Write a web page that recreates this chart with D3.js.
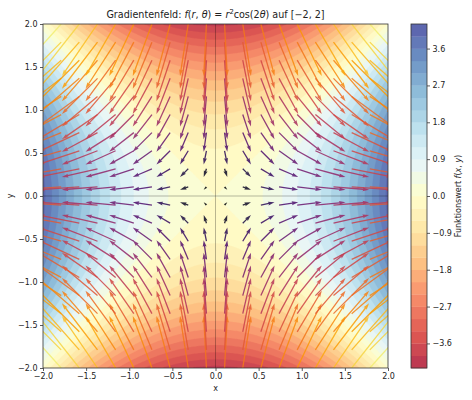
<!DOCTYPE html>
<html>
<head>
<meta charset="utf-8">
<script src="https://cdn.jsdelivr.net/npm/d3@7"></script>
<style>
  body { margin: 0; background: #fff; }
  svg { display: block; font-family: "DejaVu Sans", sans-serif; }
</style>
</head>
<body>
<div id="chart"></div>
<script>
// Data
const xDomain = [-2, 2];
const yDomain = [-2, 2];
const xTickValues = [-2.0, -1.5, -1.0, -0.5, 0.0, 0.5, 1.0, 1.5, 2.0];
const yTickValues = [-2.0, -1.5, -1.0, -0.5, 0.0, 0.5, 1.0, 1.5, 2.0];
const contourLevels = [-4.2, -3.9, -3.6, -3.3, -3.0, -2.7, -2.4, -2.1, -1.8, -1.5, -1.2, -0.9, -0.6, -0.3,
    0.0, 0.3, 0.6, 0.9, 1.2, 1.5, 1.8, 2.1, 2.4, 2.7, 3.0, 3.3, 3.6, 3.9, 4.2];
const colorbarTicks = [-3.6, -2.7, -1.8, -0.9, 0.0, 0.9, 1.8, 2.7, 3.6];
// quiver sample points (same for x and y)
const quiverGrid = [-2.0, -1.789, -1.579, -1.368, -1.158, -0.947, -0.737, -0.526, -0.316, -0.105,
    0.105, 0.316, 0.526, 0.737, 0.947, 1.158, 1.368, 1.579, 1.789, 2.0];
const rdylbuStops = ['#a50026', '#d73027', '#f46d43', '#fdae61', '#fee090', '#ffffbf',
    '#e0f3f8', '#abd9e9', '#74add1', '#4575b4', '#313695'];

// f(r, θ) = r² cos(2θ) = x² − y²
const f = (x, y) => x * x - y * y;
const grad = (x, y) => [2 * x, -2 * y];

// Dimensions
const dimensions = {
    width: 472,
    height: 400,
    plotLeft: 43,
    plotRight: 388,
    plotTop: 24,
    plotBottom: 368,
    cbLeft: 411,
    cbRight: 427
};

const xScale = d3.scaleLinear().domain(xDomain).range([dimensions.plotLeft, dimensions.plotRight]);
const yScale = d3.scaleLinear().domain(yDomain).range([dimensions.plotBottom, dimensions.plotTop]);

const rdylbu = d3.piecewise(d3.interpolateRgb, rdylbuStops);
const fillAlpha = 0.8;
const blend = c => {
    const rgb = d3.rgb(c);
    return d3.rgb(rgb.r * fillAlpha + 255 * (1 - fillAlpha),
        rgb.g * fillAlpha + 255 * (1 - fillAlpha),
        rgb.b * fillAlpha + 255 * (1 - fillAlpha)).formatHex();
};
const lvMin = contourLevels[0], lvMax = contourLevels[contourLevels.length - 1];
const bandColor = i => {
    const mid = (contourLevels[i] + contourLevels[i + 1]) / 2;
    return blend(rdylbu((mid - lvMin) / (lvMax - lvMin)));
};

const svg = d3.select('#chart')
    .append('svg')
    .attr('width', dimensions.width)
    .attr('height', dimensions.height);

svg.append('clipPath').attr('id', 'plotclip')
    .append('rect')
    .attr('x', dimensions.plotLeft).attr('y', dimensions.plotTop)
    .attr('width', dimensions.plotRight - dimensions.plotLeft)
    .attr('height', dimensions.plotBottom - dimensions.plotTop);

const plot = svg.append('g').attr('clip-path', 'url(#plotclip)');

// Filled contours
const n = 240;
const step = (xDomain[1] - xDomain[0]) / n;
const values = new Array(n * n);
for (let j = 0; j < n; j++) {
    for (let i = 0; i < n; i++) {
        const x = xDomain[0] + (i + 0.5) * step;
        const y = yDomain[1] - (j + 0.5) * step;
        values[j * n + i] = f(x, y);
    }
}
const contours = d3.contours().size([n, n]).thresholds(contourLevels.slice(0, -1))(values);
const proj = d3.geoTransform({
    point: function (cx, cy) {
        this.stream.point(xScale(xDomain[0] + cx * step), yScale(yDomain[1] - cy * step));
    }
});
const path = d3.geoPath(proj);

plot.selectAll('path.band')
    .data(contours)
    .join('path')
    .attr('class', 'band')
    .attr('d', path)
    .attr('fill', (d, i) => bandColor(i))
    .attr('stroke', (d, i) => bandColor(i))
    .attr('stroke-width', 0.3);

// zero lines
plot.append('line')
    .attr('x1', xScale(0)).attr('x2', xScale(0))
    .attr('y1', dimensions.plotTop).attr('y2', dimensions.plotBottom)
    .attr('stroke', '#000').attr('stroke-opacity', 0.35).attr('stroke-width', 0.8);
plot.append('line')
    .attr('x1', dimensions.plotLeft).attr('x2', dimensions.plotRight)
    .attr('y1', yScale(0)).attr('y2', yScale(0))
    .attr('stroke', '#000').attr('stroke-opacity', 0.35).attr('stroke-width', 0.8);

// Quiver
const arrows = [];
quiverGrid.forEach(y => quiverGrid.forEach(x => {
    const [gx, gy] = grad(x, y);
    arrows.push({ x, y, gx, gy, mag: Math.hypot(gx, gy) });
}));
const magExtent = d3.extent(arrows, d => d.mag);
const colorScale = d3.scaleSequential(d3.interpolateInferno).domain(magExtent);
const pxPerUnit = 13;
const shaftW = 1.3, headW = 3 * shaftW, headL = 5 * shaftW, headAxisL = 4.5 * shaftW;

function arrowPath(d) {
    const x0 = xScale(d.x), y0 = yScale(d.y);
    const dx = d.gx * pxPerUnit, dy = -d.gy * pxPerUnit;
    const L = Math.hypot(dx, dy);
    let s = 1;
    if (L < headL) s = L / headL;
    const w = shaftW / 2 * s, hw = headW / 2 * s, hl = headL * s, hal = headAxisL * s;
    const pts = [[0, -w], [L - hal, -w], [L - hl, -hw], [L, 0], [L - hl, hw], [L - hal, w], [0, w]];
    const a = Math.atan2(dy, dx), ca = Math.cos(a), sa = Math.sin(a);
    return 'M' + pts.map(([px, py]) => [x0 + px * ca - py * sa, y0 + px * sa + py * ca]
        .map(v => v.toFixed(2)).join(',')).join('L') + 'Z';
}

plot.selectAll('path.arrow')
    .data(arrows)
    .join('path')
    .attr('class', 'arrow')
    .attr('d', arrowPath)
    .attr('fill', d => colorScale(d.mag))
    .attr('fill-opacity', 0.85);

// Frame
svg.append('rect')
    .attr('x', dimensions.plotLeft).attr('y', dimensions.plotTop)
    .attr('width', dimensions.plotRight - dimensions.plotLeft)
    .attr('height', dimensions.plotBottom - dimensions.plotTop)
    .attr('fill', 'none').attr('stroke', '#333').attr('stroke-width', 0.8);

// Axes
const fmt = d => d3.format('.1f')(d).replace('-', '\u2212');
const xAxis = d3.axisBottom(xScale).tickValues(xTickValues).tickFormat(fmt).tickSize(3).tickPadding(2.5);
const yAxis = d3.axisLeft(yScale).tickValues(yTickValues).tickFormat(fmt).tickSize(3).tickPadding(2.5);

const xAxisGroup = svg.append('g')
    .attr('transform', `translate(0, ${dimensions.plotBottom})`)
    .call(xAxis);
const yAxisGroup = svg.append('g')
    .attr('transform', `translate(${dimensions.plotLeft}, 0)`)
    .call(yAxis);
[xAxisGroup, yAxisGroup].forEach(g => {
    g.select('.domain').remove();
    g.selectAll('.tick line').attr('stroke', '#333').attr('stroke-width', 0.8);
    g.selectAll('.tick text').attr('fill', '#222').style('font-size', '8px').style('font-family', '"DejaVu Sans", sans-serif');
});

svg.append('text')
    .attr('x', (dimensions.plotLeft + dimensions.plotRight) / 2)
    .attr('y', 391)
    .attr('text-anchor', 'middle')
    .style('font-size', '8px').attr('fill', '#222')
    .text('x');
svg.append('text')
    .attr('transform', `translate(13, ${(dimensions.plotTop + dimensions.plotBottom) / 2}) rotate(-90)`)
    .attr('text-anchor', 'middle')
    .style('font-size', '8px').attr('fill', '#222')
    .text('y');

// Title with math
const title = svg.append('text')
    .attr('x', (dimensions.plotLeft + dimensions.plotRight) / 2)
    .attr('y', 18)
    .attr('text-anchor', 'middle')
    .style('font-size', '9.6px').attr('fill', '#222');
const titleParts = [
    ['Gradientenfeld: ', false], ['f', true], ['(', false], ['r', true], [', ', false], ['θ', true],
    [') = ', false], ['r', true], ['2', 'sup'], ['cos(2', false], ['θ', true], [') auf [\u22122, 2]', false]
];
titleParts.forEach(([t, style]) => {
    const ts = title.append('tspan').text(t);
    if (style === true) ts.style('font-style', 'italic');
    if (style === 'sup') ts.attr('dy', -4).style('font-size', '6.8px');
    if (t === 'cos(2') ts.attr('dy', 4);
});

// Colorbar
const cbScale = d3.scaleLinear().domain([lvMin, lvMax]).range([dimensions.plotBottom, dimensions.plotTop]);
const cb = svg.append('g');
cb.selectAll('rect')
    .data(d3.range(contourLevels.length - 1))
    .join('rect')
    .attr('x', dimensions.cbLeft)
    .attr('width', dimensions.cbRight - dimensions.cbLeft)
    .attr('y', i => cbScale(contourLevels[i + 1]))
    .attr('height', i => cbScale(contourLevels[i]) - cbScale(contourLevels[i + 1]) + 0.3)
    .attr('fill', i => bandColor(i));
cb.append('rect')
    .attr('x', dimensions.cbLeft).attr('y', dimensions.plotTop)
    .attr('width', dimensions.cbRight - dimensions.cbLeft)
    .attr('height', dimensions.plotBottom - dimensions.plotTop)
    .attr('fill', 'none').attr('stroke', '#333').attr('stroke-width', 0.8);
const cbAxis = d3.axisRight(cbScale).tickValues(colorbarTicks).tickFormat(fmt).tickSize(3).tickPadding(2.5);
const cbAxisGroup = svg.append('g')
    .attr('transform', `translate(${dimensions.cbRight}, 0)`)
    .call(cbAxis);
cbAxisGroup.select('.domain').remove();
cbAxisGroup.selectAll('.tick line').attr('stroke', '#333').attr('stroke-width', 0.8);
cbAxisGroup.selectAll('.tick text').attr('fill', '#222').style('font-size', '8px').style('font-family', '"DejaVu Sans", sans-serif');

const cbLabel = svg.append('text')
    .attr('transform', `translate(461, ${(dimensions.plotTop + dimensions.plotBottom) / 2}) rotate(-90)`)
    .attr('text-anchor', 'middle')
    .style('font-size', '8px').attr('fill', '#222');
[['Funktionswert ', false], ['f', true], ['(', false], ['x', true], [', ', false], ['y', true], [')', false]]
    .forEach(([t, it]) => {
        const ts = cbLabel.append('tspan').text(t);
        if (it) ts.style('font-style', 'italic');
    });
</script>
</body>
</html>
